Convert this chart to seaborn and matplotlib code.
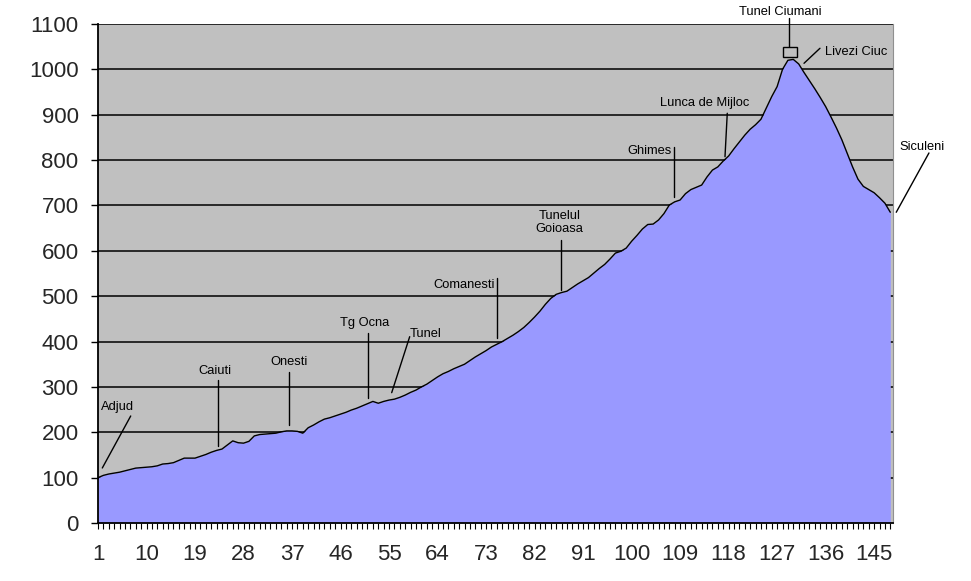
import numpy as np
import pandas as pd
import matplotlib
matplotlib.use("Agg")
import matplotlib.pyplot as plt
from matplotlib.patches import Rectangle
import seaborn as sns

# ---- data ----
km = list(range(1, 149))
altitude = [
    100, 105, 108, 110, 112, 115, 118, 121, 122, 123,
    124, 126, 130, 131, 133, 138, 143, 143, 143, 147,
    151, 156, 160, 163, 172, 181, 177, 176, 180, 192,
    195, 196, 197, 198, 201, 203, 203, 202, 198, 210,
    216, 223, 229, 232, 236, 240, 244, 249, 253, 258,
    263, 268, 264, 268, 271, 273, 277, 282, 288, 293,
    300, 306, 314, 322, 329, 334, 340, 345, 350, 358,
    366, 373, 380, 388, 394, 400, 407, 414, 422, 431,
    442, 454, 467, 482, 495, 504, 508, 511, 519, 527,
    534, 541, 551, 561, 570, 582, 595, 599, 606, 621,
    634, 648, 658, 659, 668, 682, 701, 708, 712, 726,
    735, 740, 745, 763, 778, 785, 798, 809, 825, 840,
    855, 868, 878, 890, 915, 940, 962, 1000, 1020, 1022,
    1012, 993, 975, 957, 938, 918, 895, 871, 845, 815,
    785, 758, 742, 735, 728, 717, 705, 685,
]
x_tick_labels = [1, 10, 19, 28, 37, 46, 55, 64, 73, 82, 91, 100, 109, 118, 127, 136, 145]
y_ticks = list(range(0, 1101, 100))

# annotations: label, text position (x, y), leader line from (x1, y1) to (x2, y2)
place_names = ["Adjud", "Caiuti", "Onesti", "Tg Ocna", "Tunel", "Comanesti",
               "Tunelul", "Goioasa", "Ghimes", "Lunca de Mijloc", "Tunel Ciumani",
               "Livezi Ciuc", "Siculeni"]
label_x = [4.53, 22.76, 36.44, 50.44, 61.85, 68.85, 86.58, 86.58, 103.4, 113.49, 127.5, 141.72, 153.93]
label_y = [255.7, 335.0, 355.0, 441.0, 416.7, 524.7, 676.8, 648.1, 820.0, 925.9, 1125.4, 1038.4, 828.9]
leader_x1 = [7.07, 23.32, 36.5, 51.15, 58.83, 75.08, 86.96, None, 107.87, 117.75, 129.2, 134.95, 155.17]
leader_y1 = [235.9, 315.3, 333.6, 419.5, 410.7, 540.1, 623.9, None, 829.6, 903.2, 1112.7, 1046.5, 815.7]
leader_x2 = [1.80, 23.32, 36.5, 51.15, 55.49, 75.08, 86.96, None, 107.87, 117.33, 129.2, 131.99, 149.1]
leader_y2 = [121.3, 169.8, 216.0, 274.9, 287.3, 407.8, 513.7, None, 719.4, 807.5, 1050.0, 1013.4, 685.0]

df = pd.DataFrame({"km": km, "altitude": altitude})

sns.set_theme(style="white")
plt.rcParams["font.family"] = ["Liberation Sans", "DejaVu Sans"]

fig = plt.figure(figsize=(9.71, 5.81), dpi=100)
ax = fig.add_axes([98 / 971, 1 - 523 / 581, (893 - 98) / 971, (523 - 24) / 581])
ax.set_facecolor("#C0C0C0")

ax.fill_between(df["km"], df["altitude"], 0, color="#9999FF", zorder=2, linewidth=0)
sns.lineplot(data=df, x="km", y="altitude", color="black", linewidth=1.0, ax=ax, zorder=3)

ax.set_xlim(1, 148.5)
ax.set_ylim(0, 1100)
ax.set_yticks(y_ticks)
ax.set_yticklabels([str(v) for v in y_ticks])
ax.set_xticks(x_tick_labels)
ax.set_xticklabels([str(v) for v in x_tick_labels])
ax.set_xticks(km, minor=True)
for v in y_ticks[1:]:
    ax.axhline(v, color="black", linewidth=1.1, zorder=1)

ax.tick_params(axis="y", which="major", direction="out", length=5, width=1, color="black",
               labelsize=16, pad=9, left=True)
ax.tick_params(axis="x", which="both", direction="out", length=4, width=0.8, color="black",
               labelsize=16, pad=11, bottom=True)
ax.set_xlabel("")
ax.set_ylabel("")

ax.spines["top"].set_visible(False)
ax.spines["right"].set_color("#909090")
ax.spines["right"].set_linewidth(0.8)
ax.spines["left"].set_color("black")
ax.spines["left"].set_linewidth(1.3)
ax.spines["bottom"].set_color("black")
ax.spines["bottom"].set_linewidth(1.3)

# annotations
for i, name in enumerate(place_names):
    ax.text(label_x[i], label_y[i], name, ha="center", va="center", fontsize=9.3,
            color="black", clip_on=False, zorder=5)
    if leader_x1[i] is not None:
        ax.plot([leader_x1[i], leader_x2[i]], [leader_y1[i], leader_y2[i]], color="black",
                linewidth=1.0, clip_on=False, zorder=4)

ax.add_patch(Rectangle((128.14, 1026.7), 2.54, 23.3, facecolor="#C0C0C0", edgecolor="black",
                       linewidth=1.0, zorder=4))

fig.savefig("out.png", dpi=100)
